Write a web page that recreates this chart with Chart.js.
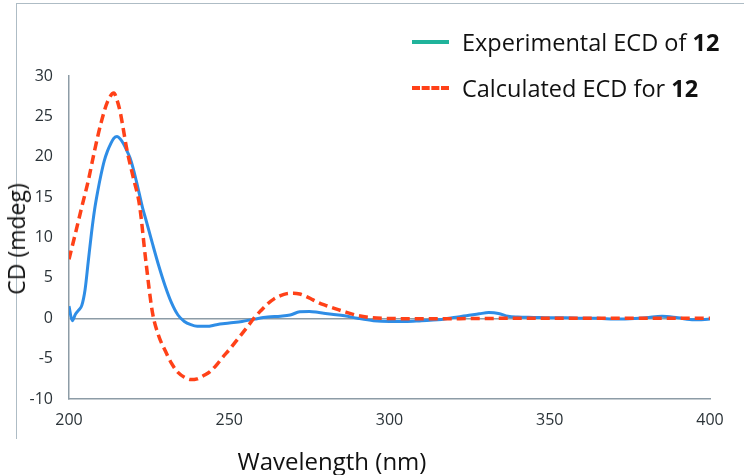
<!DOCTYPE html>
<html>
<head>
<meta charset="utf-8">
<script src="https://cdn.jsdelivr.net/npm/chart.js@4.4.1/dist/chart.umd.min.js"></script>
<style>
  html, body { margin: 0; padding: 0; background: #fff; }
  #wrap { position: relative; width: 747px; height: 475px; overflow: hidden; font-family: "Open Sans", sans-serif; }
  #frame { position: absolute; left: 16px; top: 3px; width: 727px; height: 435px;
           border-left: 1.5px solid #aebcc5; border-top: 1.5px solid #aebcc5; }
  canvas { position: absolute; left: 0; top: 0; }
  .txt { position: absolute; color: #111; white-space: nowrap; }
  .legend-row { position: absolute; left: 412px; height: 30px; display: flex; align-items: center; font-size: 23.5px; color: #111; }
  .swatch { width: 37px; height: 0; margin-right: 13px; }
</style>
</head>
<body>
<div id="wrap">
  <div id="frame"></div>
  <canvas id="cd" width="747" height="475"></canvas>
  <div class="legend-row" style="top:27px">
    <span class="swatch" style="border-top:4px solid #20b39b"></span>
    <span>Experimental ECD of <b>12</b></span>
  </div>
  <div class="legend-row" style="top:73px">
    <span class="swatch" style="border-top:4px dashed #ff4118"></span>
    <span>Calculated ECD for <b>12</b></span>
  </div>
  <div class="txt" style="font-size:23px; left:16px; top:239px; transform: translate(-50%,-50%) rotate(-90deg);">CD (mdeg)</div>
  <div class="txt" style="font-size:24px; left:332px; top:460px; transform: translate(-50%,-50%);">Wavelength (nm)</div>
</div>
<script>
  // data
  const expWavelength = [200, 201, 202, 203, 204, 205, 206, 207, 208, 209, 210, 211, 212, 213, 214, 215, 216, 217, 218, 219,
    220, 221, 222, 223, 224, 226, 228, 230, 232, 234, 236, 238, 240, 243, 246, 250, 254, 258, 262, 266,
    269, 272, 275, 278, 282, 286, 290, 295, 300, 305, 310, 315, 320, 324, 328, 331, 334, 337, 340, 345,
    350, 355, 360, 365, 370, 375, 380, 385, 390, 395, 400];
  const expCD = [1.5, -0.3, 0.5, 1.0, 1.6, 3.5, 7.0, 10.5, 13.5, 15.8, 17.8, 19.5, 20.7, 21.6, 22.3, 22.5, 22.2, 21.6, 20.8, 19.9,
    18.6, 17.0, 15.3, 13.6, 12.2, 9.3, 6.5, 4.0, 1.9, 0.4, -0.4, -0.8, -1.0, -1.0, -0.8, -0.6, -0.4, -0.1, 0.15, 0.25,
    0.4, 0.8, 0.85, 0.7, 0.5, 0.3, 0.0, -0.3, -0.4, -0.4, -0.3, -0.2, 0.1, 0.3, 0.55, 0.7, 0.6, 0.25, 0.15, 0.1,
    0.05, 0.05, 0.0, 0.0, -0.1, -0.05, 0.05, 0.25, 0.05, -0.2, -0.1];

  const calcWavelength = [200, 202, 204, 206, 208, 210, 212, 214, 215, 216, 217, 218, 220, 222, 224, 226, 228, 230, 232, 234,
    236, 238, 240, 242, 244, 246, 248, 250, 252, 254, 256, 258, 260, 262, 264, 266, 268, 270, 272, 274,
    276, 278, 280, 283, 286, 290, 294, 298, 305, 320, 340, 360, 380, 400];
  const calcCD = [7.3, 10.5, 13.8, 17.0, 20.8, 24.2, 26.8, 27.9, 27.0, 25.5, 23.3, 21.0, 17.5, 14.0, 7.0, 0.8, -2.2, -4.0, -5.6, -6.7,
    -7.3, -7.6, -7.5, -7.1, -6.6, -5.8, -4.8, -3.9, -2.9, -1.9, -0.9, 0.15, 1.0, 1.8, 2.4, 2.8, 3.05, 3.1, 3.0, 2.7,
    2.3, 1.9, 1.6, 1.2, 0.8, 0.35, 0.1, 0.0, -0.05, -0.05, 0.0, 0.0, 0.0, 0.0];

  const xTicks = [200, 250, 300, 350, 400];
  const yTicks = [-10, -5, 0, 5, 10, 15, 20, 25, 30];

  const toPoints = (xs, ys) => xs.map((x, i) => ({ x: x, y: ys[i] }));

  const axisColor = '#8d9ca6';
  const tickFont = { family: 'Open Sans', size: 16 };

  new Chart(document.getElementById('cd').getContext('2d'), {
    type: 'line',
    data: {
      datasets: [{
        label: 'Calculated ECD for 12',
        data: toPoints(calcWavelength, calcCD),
        borderColor: '#ff4118',
        borderWidth: 3.5,
        borderDash: [9, 5],
        pointRadius: 0,
        cubicInterpolationMode: 'monotone',
        order: 0
      }, {
        label: 'Experimental ECD of 12',
        data: toPoints(expWavelength, expCD),
        borderColor: '#2e8de6',
        borderWidth: 3,
        pointRadius: 0,
        cubicInterpolationMode: 'monotone',
        order: 1
      }]
    },
    options: {
      responsive: false,
      animation: false,
      layout: { padding: { left: 0, top: 76, right: 37, bottom: 0 } },
      plugins: { legend: { display: false }, tooltip: { enabled: false } },
      scales: {
        x: {
          type: 'linear',
          min: xTicks[0],
          max: xTicks[xTicks.length - 1],
          afterBuildTicks: (scale) => { scale.ticks = xTicks.map(v => ({ value: v })); },
          afterFit: (scale) => { scale.height = 76; },
          grid: { color: 'transparent', drawTicks: false },
          border: { color: axisColor, width: 1.5 },
          ticks: { color: '#2b3338', font: tickFont, padding: 12, maxRotation: 0 }
        },
        y: {
          min: yTicks[0],
          max: yTicks[yTicks.length - 1],
          afterBuildTicks: (scale) => { scale.ticks = yTicks.map(v => ({ value: v })); },
          afterFit: (scale) => { scale.width = 69; },
          grid: {
            drawTicks: false,
            lineWidth: 1.5,
            color: (ctx) => ctx.tick && ctx.tick.value === 0 ? axisColor : 'transparent'
          },
          border: { color: axisColor, width: 1.5 },
          ticks: { color: '#2b3338', font: tickFont, padding: 16 }
        }
      }
    }
  });
</script>
</body>
</html>
